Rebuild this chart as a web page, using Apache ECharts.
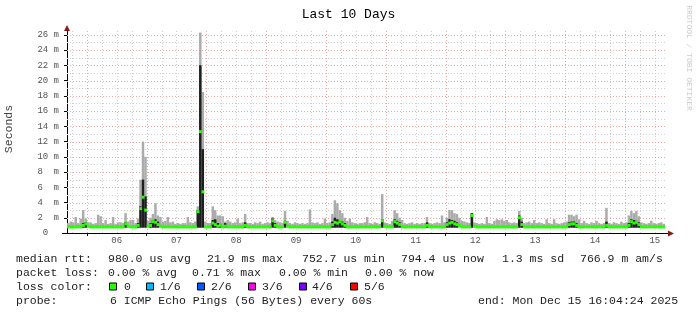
<!DOCTYPE html>
<html><head><meta charset="utf-8">
<script src="https://cdn.jsdelivr.net/npm/echarts@6/dist/echarts.min.js"></script>
<style>html,body{margin:0;padding:0;background:#fff}#c{width:697px;height:315px}</style>
</head><body><div id="c"></div>
<script>
// ---- data ----
const title = 'Last 10 Days';
const startHour = 16 + 4 / 60 + 24 / 3600;   // Dec 5 16:04:24 (hours since Dec 5 00:00)
const spanHours = 240;
const dayLabels = ['06', '07', '08', '09', '10', '11', '12', '13', '14', '15'];
const dayLabelHours = [36, 60, 84, 108, 132, 156, 180, 204, 228, 252];
const majorGridHours = [24, 48, 72, 96, 120, 144, 168, 192, 216, 240];
const minorGridHours = [18, 30, 36, 42, 54, 60, 66, 78, 84, 90, 102, 108, 114, 126, 132, 138, 150, 156, 162, 174, 180, 186, 198, 204, 210, 222, 228, 234, 246, 252];
const yTickValues = [0, 2, 4, 6, 8, 10, 12, 14, 16, 18, 20, 22, 24, 26];
const yMajorGrid = [2, 4, 6, 8, 10, 12, 14, 16, 18, 20, 22, 24, 26];
const yMinorGrid = [1, 3, 5, 7, 9, 11, 13, 15, 17, 19, 21, 23, 25];
const yMax = 26.5;
const smokeFloor = 0.7;   // ms
// hourly smoke top (ms)
const smokeMax = [
 1.3,1.5,1.4,2.1,1.3,1.9,3.0,1.9,1.4,1.4,1.2,1.3,2.4,2.2,1.3,1.7,1.2,1.3,2.1,1.2,1.4,1.4,1.3,2.6,
 1.5,1.7,1.7,1.3,1.9,7.0,12.0,10.0,1.6,2.0,2.5,3.9,2.3,2.1,1.5,1.6,2.1,1.4,1.5,1.2,1.3,1.2,1.3,1.3,
 2.1,1.4,1.3,1.5,3.5,26.3,18.5,1.5,1.3,1.3,3.5,3.0,2.3,2.3,2.2,1.5,1.7,1.5,1.3,1.4,1.9,1.3,1.4,2.5,
 1.3,1.3,1.2,1.4,1.3,1.5,1.2,1.3,1.4,1.3,2.1,1.7,1.5,1.4,1.3,2.9,1.6,1.3,1.2,1.4,1.3,1.2,1.3,1.2,
 1.3,3.1,1.4,1.3,1.4,1.2,1.3,1.9,1.3,1.4,2.5,4.3,3.9,3.0,2.6,2.0,1.6,1.9,1.4,1.3,1.2,1.3,1.3,1.4,
 2.1,1.3,1.2,1.4,1.3,1.2,5.1,1.4,1.3,1.2,1.6,3.0,2.6,2.0,1.7,1.3,1.2,1.3,1.4,1.2,1.3,1.2,1.3,1.3,
 2.1,1.3,1.2,1.3,1.4,1.3,2.3,1.4,2.0,3.0,3.0,2.6,2.5,2.0,1.6,1.5,1.4,1.3,2.6,1.4,1.3,1.2,1.3,1.2,
 2.1,1.3,1.2,1.6,1.8,1.7,1.8,1.6,1.7,1.4,1.3,1.4,1.3,2.9,2.0,1.3,1.4,1.5,1.3,1.7,1.3,1.4,1.3,1.2,
 1.8,1.3,1.2,1.8,1.3,1.2,1.3,1.4,1.5,2.4,2.4,2.2,2.4,1.8,1.3,1.6,1.3,1.2,1.4,1.3,1.6,1.3,1.2,1.3,
 3.3,1.3,1.2,1.4,1.3,1.2,1.5,1.3,1.4,2.3,2.9,2.6,2.9,2.2,1.4,1.3,1.2,1.3,1.6,1.3,1.2,1.3,1.4,1.2
];
// hourly dense (dark) smoke top (ms), 0 = none
const smokeDark = [
 0,0,0,0,0,0,1.3,1.4,0,0,0,0,0,0,0,0,0,0,0,0,0,0,0,1.4,
 0,0,0,0,1.3,3.5,7.0,4.8,0,1.3,1.7,1.8,1.5,0,0,0,0,0,0,0,0,0,0,0,
 0,0,0,0,3.0,22.0,11.0,0,0,0,1.7,1.8,1.3,1.2,0,1.3,0,0,0,0,0,0,0,1.4,
 0,0,0,0,0,0,0,0,0,0,1.9,1.3,0,0,0,1.6,0,0,0,0,0,0,0,0,
 0,0,0,0,0,0,0,0,0,0,1.5,2.0,1.8,1.7,1.5,1.3,0,0,0,0,0,0,0,0,
 0,0,0,0,0,0,1.8,0,0,0,0,1.8,1.6,1.4,0,0,0,0,0,0,0,0,0,0,
 1.4,0,0,0,0,0,0,0,1.4,1.8,1.7,1.6,1.4,0,0,0,0,0,2.6,0,0,0,0,0,
 0,0,0,0,0,0,0,0,0,0,0,0,0,2.3,1.5,0,0,0,0,0,0,0,0,0,
 0,0,0,0,0,0,0,0,0,1.4,1.5,1.5,1.3,0,0,0,0,0,0,0,0,0,0,0,
 1.5,0,0,0,0,0,0,0,0,1.3,1.8,1.7,1.6,1.4,0,0,0,0,0,0,0,0,0,0
];
// hourly median rtt (ms), loss 0
const median = [
 0.8,0.8,0.8,0.8,0.8,0.8,1.0,1.2,0.9,0.8,0.8,0.8,0.8,0.8,0.8,0.8,0.8,0.8,0.8,0.8,0.8,0.8,0.8,1.2,
 0.9,0.8,0.8,0.8,1.0,3.2,4.7,3.0,0.9,1.0,1.5,1.4,1.1,0.9,0.8,0.8,0.8,0.8,0.8,0.8,0.8,0.8,0.8,0.8,
 0.8,0.8,0.8,0.8,2.8,13.3,5.4,0.8,0.8,0.8,1.3,1.1,0.9,1.0,0.8,0.9,0.8,0.8,0.8,0.8,0.8,0.8,0.8,1.0,
 0.8,0.8,0.8,0.8,0.8,0.8,0.8,0.8,0.8,0.8,1.6,1.0,0.8,0.8,0.8,1.4,0.9,0.8,0.8,0.8,0.8,0.8,0.8,0.8,
 0.8,0.8,0.8,0.8,0.8,0.8,0.8,0.8,0.8,0.8,1.1,1.4,1.3,1.5,1.2,1.0,0.8,0.8,0.8,0.8,0.8,0.8,0.8,0.8,
 0.8,0.8,0.8,0.8,0.8,0.8,1.6,0.9,0.8,0.8,0.8,1.5,1.3,1.1,0.8,0.8,0.8,0.8,0.8,0.8,0.8,0.8,0.8,0.8,
 1.0,0.8,0.8,0.8,0.8,0.8,0.8,0.8,1.1,1.3,1.4,1.2,1.1,1.0,0.8,0.8,0.8,0.8,2.3,0.9,0.8,0.8,0.8,0.8,
 0.8,0.8,0.8,0.8,0.8,0.8,0.8,0.8,0.8,0.8,0.8,0.8,0.8,2.0,1.1,0.8,0.8,0.8,0.8,0.8,0.8,0.8,0.8,0.8,
 0.8,0.8,0.8,0.8,0.8,0.8,0.8,0.8,0.8,1.1,1.2,1.2,1.0,0.8,0.8,0.8,0.8,0.8,0.8,0.8,0.8,0.8,0.8,0.8,
 1.0,0.8,0.8,0.8,0.8,0.8,0.8,0.8,0.8,1.0,1.5,1.3,1.4,1.1,0.8,0.8,0.8,0.8,0.8,0.8,0.8,0.8,0.8,0.8
];
const legendLines = [
  [['median rtt:', 16], ['980.0 us avg', 108], ['21.9 ms max', 207], ['752.7 us min', 302], ['794.4 us now', 401], ['1.3 ms sd', 502], ['766.9 m am/s', 580]],
  [['packet loss:', 16], ['0.00 % avg', 108], ['0.71 % max', 192], ['0.00 % min', 279], ['0.00 % now', 365]],
  [['loss color:', 16]],
  [['probe:', 16], ['6 ICMP Echo Pings (56 Bytes) every 60s', 110], ['end: Mon Dec 15 16:04:24 2025', 478]]
];
const lossLabels = ['0', '1/6', '2/6', '3/6', '4/6', '5/6'];
const lossColors = ['#26ff00', '#00b8ff', '#0059ff', '#ff00ea', '#7e00ff', '#ff0000'];
const lossBoxX = [109, 146, 197, 248, 299, 350];
const lossLabelX = [124, 160, 211, 262, 312, 364];

// ---- chart ----
const MONO = '"Liberation Mono", "DejaVu Sans Mono", monospace';
const chart = echarts.init(document.getElementById('c'), null, { renderer: 'canvas' });
const xMin = startHour, xMax = startHour + spanHours;

const smokeData = smokeMax.map((v, i) => [startHour + i, smokeFloor, v]);
const darkData = smokeDark.map((v, i) => [startHour + i, smokeFloor, v]).filter(d => d[2] > 0);
const medData = median.map((v, i) => [startHour + i, v]);

function band(color) {
  return function (params, api) {
    const x0 = api.value(0), lo = api.value(1), hi = api.value(2);
    const a = api.coord([x0, hi]), b = api.coord([x0 + 1, lo]);
    return { type: 'rect', shape: { x: a[0], y: a[1], width: b[0] - a[0], height: b[1] - a[1] }, style: { fill: color } };
  };
}
function medItem(params, api) {
  const x0 = api.value(0), v = api.value(1);
  const a = api.coord([x0, v]), b = api.coord([x0 + 1, v]);
  return { type: 'rect', shape: { x: a[0], y: a[1] - 1.5, width: b[0] - a[0] + 0.3, height: 3 }, style: { fill: '#26ff00' } };
}
function vLine(color) {
  return function (params, api) {
    const cs = params.coordSys; const p = api.coord([api.value(0), 0]);
    const x = Math.round(p[0]) + 0.5;
    return { type: 'line', shape: { x1: x, y1: cs.y, x2: x, y2: cs.y + cs.height }, style: { stroke: color, lineWidth: 1, lineDash: [1, 2] } };
  };
}
function hLine(color) {
  return function (params, api) {
    const cs = params.coordSys; const p = api.coord([xMin, api.value(1)]);
    const y = Math.round(p[1]) + 0.5;
    return { type: 'line', shape: { x1: cs.x, y1: y, x2: cs.x + cs.width, y2: y }, style: { stroke: color, lineWidth: 1, lineDash: [1, 2] } };
  };
}

const graphic = [];
graphic.push({ type: 'text', left: 'center', top: 8, style: { text: title, font: '13px ' + MONO, fill: '#000' } });
graphic.push({ type: 'text', x: 9, y: 129, rotation: Math.PI / 2, style: { text: 'Seconds', font: '11.5px ' + MONO, fill: '#444', align: 'center', verticalAlign: 'middle' } });
graphic.push({ type: 'text', x: 689, y: 58, rotation: -Math.PI / 2, style: { text: 'RRDTOOL / TOBI OETIKER', font: '8px ' + MONO, fill: '#cccccc', align: 'center', verticalAlign: 'middle' } });
graphic.push({ type: 'polygon', shape: { points: [[64, 31], [70, 31], [67, 25]] }, style: { fill: '#8b1a1a' } });
graphic.push({ type: 'polygon', shape: { points: [[668, 230.5], [668, 236.5], [674, 233.5]] }, style: { fill: '#8b1a1a' } });
graphic.push({ type: 'line', shape: { x1: 62, y1: 233.5, x2: 668, y2: 233.5 }, style: { stroke: '#000', lineWidth: 1 } });
const lineY = [259, 272.5, 286.5, 300.5];
legendLines.forEach((segs, li) => segs.forEach(([t, x]) => graphic.push({ type: 'text', x: x, y: lineY[li], style: { text: t, font: '11.5px ' + MONO, fill: '#222', verticalAlign: 'middle' } })));
lossLabels.forEach((t, i) => {
  graphic.push({ type: 'rect', shape: { x: lossBoxX[i] + 0.5, y: lineY[2] - 3.5, width: 7, height: 7 }, style: { fill: lossColors[i], stroke: '#000', lineWidth: 1 } });
  graphic.push({ type: 'text', x: lossLabelX[i], y: lineY[2], style: { text: t, font: '11.5px ' + MONO, fill: '#222', verticalAlign: 'middle' } });
});

chart.setOption({
  animation: false,
  backgroundColor: '#fff',
  grid: { left: 67, right: 32, top: 31, bottom: 82, containLabel: false },
  xAxis: {
    type: 'value', min: xMin, max: xMax,
    axisLine: { show: true, lineStyle: { color: '#000', width: 1 } },
    axisTick: { show: true, customValues: majorGridHours, length: 3, lineStyle: { color: '#000' } },
    axisLabel: { customValues: dayLabelHours, margin: 3, formatter: v => dayLabels[dayLabelHours.indexOf(Math.round(v))] || '', fontFamily: MONO, fontSize: 9, color: '#555' },
    splitLine: { show: false }
  },
  yAxis: {
    type: 'value', min: 0, max: yMax,
    axisLine: { show: true, lineStyle: { color: '#000', width: 1 } },
    axisTick: { show: true, customValues: yTickValues, length: 3, lineStyle: { color: '#000' } },
    axisLabel: { customValues: yTickValues, margin: 8, fontFamily: MONO, fontSize: 9, color: '#555',
      formatter: v => v === 0 ? ' 0  ' : (v < 10 ? v + '  m' : v + ' m') },
    splitLine: { show: false }
  },
  graphic: graphic,
  series: [
    { type: 'custom', name: 'gridMinorV', z: 1, silent: true, clip: false, renderItem: vLine('#d0d0d0'), data: minorGridHours.map(h => [h, 0]) },
    { type: 'custom', name: 'gridMinorH', z: 1, silent: true, clip: false, renderItem: hLine('#d0d0d0'), data: yMinorGrid.map(v => [xMin, v]) },
    { type: 'custom', name: 'gridMajorV', z: 1, silent: true, clip: false, renderItem: vLine('#e8a8a8'), data: majorGridHours.map(h => [h, 0]) },
    { type: 'custom', name: 'gridMajorH', z: 1, silent: true, clip: false, renderItem: hLine('#e8a8a8'), data: yMajorGrid.map(v => [xMin, v]) },
    { type: 'custom', name: 'smoke', z: 2, silent: true, renderItem: band('#ababab'), encode: { x: 0, y: [1, 2] }, data: smokeData },
    { type: 'custom', name: 'smokeDense', z: 3, silent: true, renderItem: band('#1e1e1e'), encode: { x: 0, y: [1, 2] }, data: darkData },
    { type: 'custom', name: 'median', z: 4, silent: true, renderItem: medItem, encode: { x: 0, y: 1 }, data: medData }
  ]
});
</script>
</body></html>
